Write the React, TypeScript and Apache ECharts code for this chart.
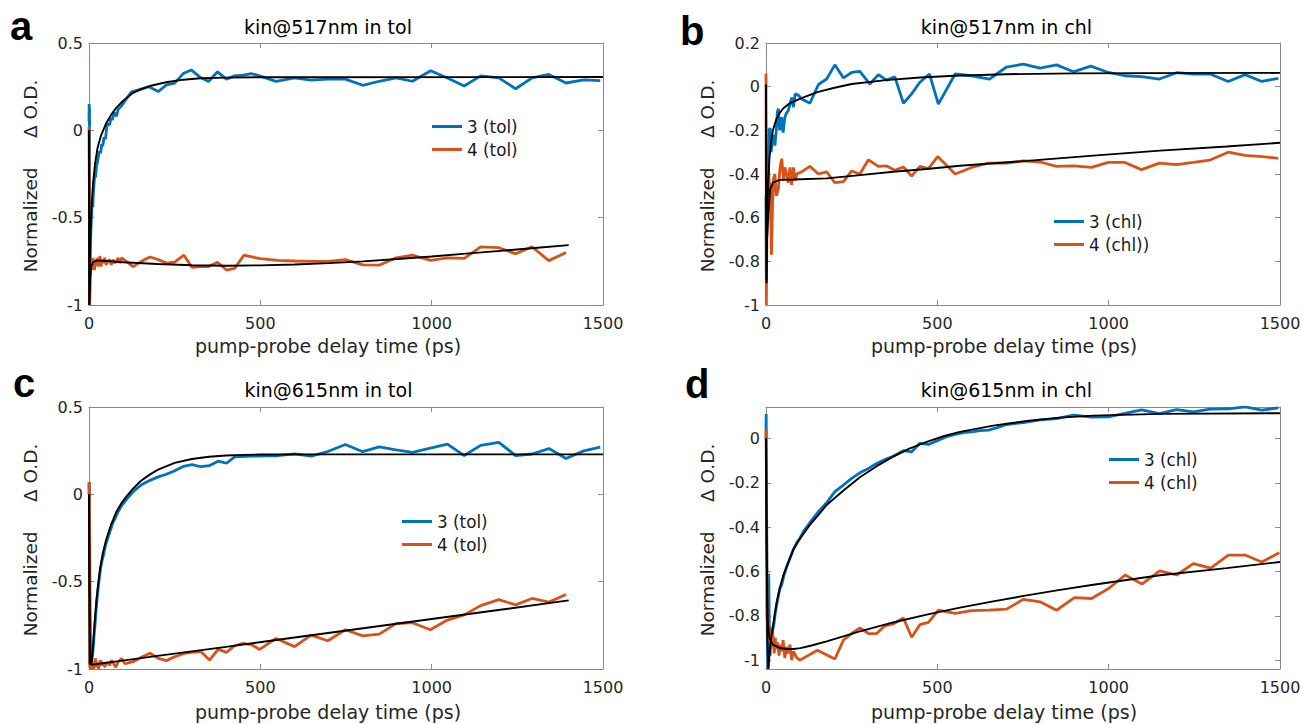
import React, { useEffect, useRef } from "react";
import * as echarts from "echarts";

type Pt = [number, number];

// ---------- tick values & labels ----------
const xTicks = [0, 500, 1000, 1500];
const yTicksAC = [-1, -0.5, 0, 0.5];
const yTicksB = [-1, -0.8, -0.6, -0.4, -0.2, 0, 0.2];
const yTicksD = [-1, -0.8, -0.6, -0.4, -0.2, 0];

const titles = ["kin@517nm in tol", "kin@517nm in chl", "kin@615nm in tol", "kin@615nm in chl"];
const letters = ["a", "b", "c", "d"];
const legendNames = [
  ["3 (tol)", "4 (tol)"],
  ["3 (chl)", "4 (chl))"],
  ["3 (tol)", "4 (tol)"],
  ["3 (chl)", "4 (chl)"],
];
const xLabel = "pump-probe delay time (ps)";
const yLabel = "Normalized\u00a0\u00a0\u00a0\u00a0\u00a0\u0394 O.D.";

// ---------- panel a: kin@517nm in tol ----------
const a3: Pt[] = [[0,0.05],[0.5,0.15],[1,0.03],[1.5,0.13],[2,-0.85],[3,-0.8],[5,-0.6],[7,-0.5],[9,-0.42],[11,-0.44],[13,-0.35],[15,-0.3],[17,-0.25],[19,-0.27],[22,-0.2],[25,-0.18],[28,-0.14],[31,-0.12],[34,-0.13],[37,-0.08],[40,-0.09],[44,-0.04],[48,-0.05],[52,0.02],[56,0.04],[60,0.03],[64,0.07],[68,0.06],[72,0.09],[76,0.1],[80,0.08],[85,0.12],[90,0.13],[95,0.14],[105,0.17],[124,0.22],[150,0.235],[175,0.25],[202,0.222],[226,0.26],[250,0.27],[275,0.325],[299,0.345],[323,0.306],[349,0.28],[375,0.335],[401,0.293],[425,0.312],[450,0.316],[474,0.325],[500,0.31],[546,0.28],[600,0.3],[648,0.287],[697,0.293],[748,0.293],[799,0.258],[847,0.281],[896,0.3],[944,0.281],[997,0.341],[1046,0.3],[1095,0.254],[1143,0.312],[1196,0.3],[1245,0.238],[1293,0.3],[1342,0.32],[1392,0.271],[1444,0.289],[1492,0.285]];
const a4: Pt[] = [[0,0.02],[1,-0.3],[2,-1.0],[4,-0.85],[6,-0.74],[8,-0.8],[10,-0.73],[12,-0.78],[14,-0.75],[16,-0.8],[18,-0.74],[20,-0.77],[23,-0.73],[26,-0.78],[29,-0.75],[32,-0.72],[35,-0.78],[38,-0.74],[42,-0.76],[46,-0.73],[50,-0.77],[55,-0.75],[60,-0.74],[65,-0.77],[70,-0.74],[75,-0.76],[80,-0.75],[85,-0.73],[90,-0.76],[95,-0.73],[129,-0.78],[153,-0.75],[178,-0.725],[202,-0.74],[226,-0.76],[250,-0.755],[277,-0.715],[301,-0.785],[326,-0.78],[349,-0.78],[375,-0.755],[401,-0.8],[425,-0.79],[452,-0.715],[500,-0.735],[550,-0.745],[600,-0.748],[650,-0.75],[700,-0.75],[748,-0.74],[799,-0.77],[847,-0.772],[896,-0.73],[944,-0.715],[997,-0.745],[1046,-0.73],[1095,-0.733],[1143,-0.667],[1196,-0.672],[1245,-0.707],[1293,-0.667],[1342,-0.746],[1392,-0.7]];
const aFit3: Pt[] = [[0,0],[1,-1],[3,-0.7],[5,-0.55],[8,-0.42],[12,-0.3],[17,-0.2],[25,-0.1],[35,-0.03],[50,0.04],[65,0.09],[80,0.13],[100,0.17],[125,0.21],[150,0.235],[180,0.255],[225,0.275],[275,0.29],[325,0.298],[400,0.302],[500,0.304],[1500,0.305]];
const aFit4: Pt[] = [[0,0],[1,-1],[3,-0.85],[6,-0.78],[12,-0.755],[25,-0.745],[50,-0.748],[100,-0.755],[200,-0.765],[300,-0.772],[400,-0.775],[500,-0.773],[600,-0.768],[700,-0.76],[800,-0.75],[900,-0.737],[1000,-0.722],[1100,-0.706],[1200,-0.69],[1300,-0.674],[1400,-0.657]];

// ---------- panel b: kin@517nm in chl ----------
const b3: Pt[] = [[0,-0.5],[1,-0.85],[3,-0.5],[6,-0.34],[9,-0.2],[12,-0.19],[15,-0.3],[18,-0.25],[22,-0.22],[26,-0.27],[30,-0.2],[33,-0.12],[36,-0.1],[40,-0.2],[45,-0.14],[50,-0.21],[55,-0.14],[60,-0.12],[65,-0.11],[70,-0.08],[75,-0.05],[80,-0.094],[85,-0.033],[95,-0.04],[104,-0.056],[128,-0.076],[153,0.01],[177,0.035],[201,0.1],[226,0.04],[250,0.065],[274,0.07],[303,0.012],[328,0.055],[352,0.03],[376,0.045],[401,-0.076],[425,-0.033],[449,0.02],[477,0.058],[503,-0.08],[552,0.058],[600,0.05],[652,0.035],[702,0.09],[751,0.103],[800,0.085],[848,0.1],[897,0.068],[948,0.094],[999,0.065],[1047,0.05],[1096,0.046],[1148,0.035],[1198,0.064],[1247,0.058],[1296,0.058],[1349,0.024],[1398,0.055],[1447,0.024],[1495,0.038]];
const b4: Pt[] = [[0,0.06],[0.5,-0.3],[1,-1.0],[3,-0.6],[7,-0.37],[10,-0.45],[12,-0.44],[16,-0.77],[19,-0.55],[22,-0.42],[26,-0.4],[30,-0.5],[36,-0.47],[41,-0.37],[46,-0.33],[51,-0.43],[55,-0.37],[60,-0.4],[65,-0.44],[70,-0.37],[75,-0.45],[80,-0.37],[85,-0.43],[90,-0.4],[104,-0.39],[128,-0.365],[153,-0.4],[177,-0.39],[201,-0.44],[226,-0.435],[250,-0.386],[274,-0.4],[299,-0.335],[328,-0.365],[352,-0.363],[376,-0.383],[401,-0.368],[425,-0.41],[449,-0.365],[474,-0.375],[501,-0.32],[552,-0.4],[600,-0.37],[649,-0.35],[702,-0.35],[751,-0.34],[800,-0.345],[848,-0.365],[897,-0.363],[950,-0.37],[999,-0.347],[1047,-0.347],[1096,-0.38],[1148,-0.35],[1198,-0.357],[1247,-0.347],[1296,-0.336],[1349,-0.3],[1398,-0.315],[1447,-0.32],[1495,-0.328]];
const bFit3: Pt[] = [[0,0.01],[1.5,-0.89],[3,-0.6],[6,-0.45],[10,-0.33],[15,-0.25],[20,-0.2],[30,-0.15],[40,-0.12],[50,-0.1],[70,-0.075],[100,-0.055],[150,-0.025],[200,-0.005],[250,0.012],[350,0.03],[450,0.042],[550,0.05],[700,0.057],[900,0.061],[1100,0.062],[1500,0.063]];
const bFit4: Pt[] = [[0,0.01],[1.5,-0.9],[3,-0.7],[7,-0.58],[12,-0.47],[20,-0.44],[40,-0.427],[80,-0.425],[177,-0.42],[274,-0.405],[371,-0.39],[469,-0.377],[566,-0.362],[761,-0.34],[955,-0.316],[1150,-0.293],[1344,-0.274],[1500,-0.257]];

// ---------- panel c: kin@615nm in tol ----------
const c3: Pt[] = [[0,0.0],[0.5,0.07],[1.5,0.03],[3,-0.6],[5,-1.0],[7,-0.97],[9,-0.93],[11,-0.9],[13,-0.86],[15,-0.8],[17,-0.76],[20,-0.68],[23,-0.61],[26,-0.55],[29,-0.5],[32,-0.45],[35,-0.41],[38,-0.38],[42,-0.35],[46,-0.31],[50,-0.28],[55,-0.25],[60,-0.22],[65,-0.19],[70,-0.16],[76,-0.14],[85,-0.1],[95,-0.065],[105,-0.04],[115,-0.015],[129,0.015],[153,0.055],[178,0.08],[202,0.1],[226,0.115],[250,0.135],[275,0.16],[301,0.17],[326,0.158],[352,0.165],[377,0.19],[401,0.178],[425,0.215],[474,0.219],[522,0.22],[551,0.221],[600,0.232],[648,0.219],[697,0.245],[748,0.285],[799,0.244],[847,0.272],[896,0.255],[944,0.24],[993,0.263],[1046,0.288],[1095,0.222],[1143,0.28],[1196,0.298],[1245,0.222],[1293,0.231],[1342,0.262],[1392,0.205],[1444,0.249],[1492,0.27]];
const c4: Pt[] = [[0,0.03],[0.5,0.07],[1,0.0],[2,-0.98],[4,-1.0],[6,-0.95],[8,-0.99],[10,-0.96],[13,-1.0],[16,-0.97],[19,-0.94],[22,-0.99],[25,-0.96],[28,-1.0],[31,-0.97],[34,-0.95],[38,-0.98],[42,-0.96],[46,-0.99],[50,-0.97],[55,-0.96],[60,-0.98],[66,-0.95],[72,-0.97],[78,-0.99],[85,-0.96],[95,-0.94],[105,-0.97],[129,-0.958],[153,-0.933],[178,-0.91],[202,-0.939],[226,-0.952],[250,-0.93],[280,-0.91],[301,-0.905],[326,-0.9],[352,-0.949],[377,-0.886],[401,-0.905],[425,-0.867],[449,-0.853],[474,-0.86],[498,-0.888],[546,-0.825],[600,-0.872],[648,-0.806],[697,-0.838],[748,-0.775],[799,-0.81],[847,-0.8],[896,-0.74],[944,-0.735],[996,-0.775],[1046,-0.72],[1095,-0.69],[1143,-0.637],[1196,-0.603],[1245,-0.633],[1293,-0.596],[1342,-0.617],[1392,-0.574]];
const cFit3: Pt[] = [[0,0.0],[1.5,-0.5],[3,-0.9],[6,-0.97],[9,-0.95],[12,-0.86],[17,-0.72],[22,-0.6],[27,-0.51],[32,-0.43],[40,-0.34],[50,-0.26],[65,-0.17],[80,-0.1],[95,-0.05],[110,-0.01],[130,0.035],[150,0.075],[175,0.11],[200,0.14],[250,0.18],[300,0.202],[350,0.215],[400,0.222],[450,0.226],[500,0.228],[700,0.229],[1500,0.229]];
const cFit4: Pt[] = [[0,0],[2,-0.97],[10,-0.975],[30,-0.97],[60,-0.962],[200,-0.925],[400,-0.873],[600,-0.82],[800,-0.767],[1000,-0.714],[1200,-0.661],[1400,-0.607]];

// ---------- panel d: kin@615nm in chl ----------
const d3: Pt[] = [[0,0.0],[0.5,0.11],[2,-0.4],[4,-0.95],[6,-1.04],[8,-0.61],[10,-0.92],[12,-0.98],[14,-0.88],[17,-0.92],[20,-0.86],[23,-0.84],[26,-0.8],[30,-0.76],[35,-0.72],[40,-0.68],[46,-0.66],[52,-0.62],[60,-0.58],[70,-0.54],[80,-0.5],[90,-0.47],[99,-0.45],[109,-0.42],[128,-0.38],[153,-0.33],[177,-0.29],[201,-0.24],[226,-0.21],[250,-0.18],[274,-0.155],[299,-0.135],[323,-0.113],[347,-0.095],[371,-0.08],[401,-0.055],[425,-0.06],[449,-0.022],[474,-0.027],[503,-0.008],[527,0.008],[552,0.018],[576,0.026],[600,0.03],[625,0.035],[649,0.038],[673,0.048],[702,0.063],[751,0.072],[800,0.084],[848,0.09],[897,0.105],[950,0.096],[999,0.098],[1047,0.113],[1096,0.129],[1148,0.112],[1198,0.13],[1247,0.12],[1296,0.132],[1349,0.134],[1398,0.143],[1447,0.128],[1495,0.138]];
const d4: Pt[] = [[0,-0.01],[0.5,0.04],[1.5,-0.3],[3,-0.8],[5,-0.86],[8,-0.83],[10,-0.92],[12,-0.88],[14,-0.95],[16,-0.85],[18,-0.93],[21,-0.89],[24,-0.97],[27,-0.9],[30,-0.95],[34,-0.92],[38,-0.98],[42,-0.93],[46,-0.96],[50,-0.91],[55,-0.99],[60,-0.94],[65,-0.97],[70,-0.93],[75,-1.0],[80,-0.96],[90,-0.99],[99,-1.0],[150,-0.955],[201,-0.995],[226,-0.91],[250,-0.88],[274,-0.855],[299,-0.88],[323,-0.88],[347,-0.845],[371,-0.837],[401,-0.81],[425,-0.897],[449,-0.84],[474,-0.83],[503,-0.774],[552,-0.789],[600,-0.777],[649,-0.774],[702,-0.77],[751,-0.726],[800,-0.737],[848,-0.775],[900,-0.718],[950,-0.722],[1000,-0.677],[1048,-0.616],[1097,-0.657],[1149,-0.597],[1198,-0.616],[1247,-0.565],[1298,-0.585],[1349,-0.526],[1398,-0.526],[1447,-0.557],[1498,-0.516]];
const dFit3: Pt[] = [[0,0.0],[2,-0.5],[4,-0.9],[7,-1.04],[10,-0.98],[15,-0.9],[21,-0.84],[31,-0.74],[41,-0.67],[50,-0.62],[60,-0.58],[80,-0.5],[100,-0.45],[128,-0.39],[150,-0.35],[177,-0.3],[226,-0.235],[274,-0.175],[323,-0.125],[371,-0.082],[420,-0.045],[469,-0.015],[518,0.01],[566,0.03],[663,0.058],[761,0.079],[858,0.094],[955,0.103],[1150,0.111],[1500,0.114]];
const dFit4: Pt[] = [[0,0],[2,-0.5],[5,-0.82],[10,-0.9],[20,-0.93],[40,-0.945],[60,-0.95],[80,-0.95],[100,-0.946],[130,-0.935],[177,-0.915],[274,-0.87],[371,-0.83],[469,-0.795],[566,-0.763],[663,-0.735],[761,-0.708],[858,-0.683],[955,-0.66],[1150,-0.617],[1344,-0.585],[1500,-0.557]];

const panelData = [
  [a3, a4, aFit3, aFit4],
  [b3, b4, bFit3, bFit4],
  [c3, c4, cFit3, cFit4],
  [d3, d4, dFit3, dFit4],
];

// ---------- layout (positions / styles) ----------
const FONT = "DejaVu Sans";
const BLUE = "#0072BD";
const ORANGE = "#D95319";
const AXIS = "#8a8a8a";
const TXT = "#262626";

const layout = [
  { left: 89, top: 43, yMin: -1, yMax: 0.5, yTicks: yTicksAC, interval: 0.5, titleX: 328, titleY: 27, xlabX: 328, xlabY: 346, ylabX: 30.5, ylabY: 176, letterX: 10, letterY: 26, legLeft: 432, legTop: 118 },
  { left: 766, top: 43, yMin: -1, yMax: 0.2, yTicks: yTicksB, interval: 0.2, titleX: 1006.5, titleY: 27, xlabX: 1004, xlabY: 346, ylabX: 707, ylabY: 176, letterX: 680, letterY: 31, legLeft: 1054, legTop: 213 },
  { left: 89, top: 407, yMin: -1, yMax: 0.5, yTicks: yTicksAC, interval: 0.5, titleX: 328.5, titleY: 390, xlabX: 328, xlabY: 712, ylabX: 30.5, ylabY: 540, letterX: 13, letterY: 383, legLeft: 402, legTop: 513 },
  { left: 766, top: 407, yMin: -1.04, yMax: 0.142, yTicks: yTicksD, interval: 0, titleX: 1006.5, titleY: 390, xlabX: 1004, xlabY: 712, ylabX: 707, ylabY: 540, letterX: 685, letterY: 384, legLeft: 1109, legTop: 451 },
];
const PW = 514;
const PH = 262;

const plainNum = (v: number) => String(Math.round(v * 1000) / 1000);

function buildOption() {
  const grid: any[] = [];
  const xAxis: any[] = [];
  const yAxis: any[] = [];
  const series: any[] = [];
  const legend: any[] = [];
  const graphic: any[] = [];

  layout.forEach((L, i) => {
    grid.push({ left: L.left, top: L.top, width: PW, height: PH, containLabel: false, outerBoundsMode: "none" });
    const lineStyle = { color: AXIS, width: 1 };
    const tickBase = { show: true, inside: true, length: 5, lineStyle };
    const xCommon = { type: "value", gridIndex: i, min: xTicks[0], max: xTicks[xTicks.length - 1], interval: xTicks[1] - xTicks[0], splitLine: { show: false } };
    xAxis.push({
      ...xCommon, position: "bottom",
      axisLine: { show: true, onZero: false, lineStyle }, axisTick: tickBase,
      axisLabel: { show: true, margin: 10, fontSize: 16, fontFamily: FONT, color: TXT, formatter: plainNum },
    });
    xAxis.push({
      ...xCommon, position: "top",
      axisLine: { show: true, onZero: false, lineStyle }, axisTick: tickBase,
      axisLabel: { show: false },
    });
    const yCommon: any = { type: "value", gridIndex: i, min: L.yMin, max: L.yMax, splitLine: { show: false } };
    if (L.interval) yCommon.interval = L.interval;
    const custom = L.interval ? {} : { customValues: L.yTicks };
    yAxis.push({
      ...yCommon, position: "left",
      axisLine: { show: true, onZero: false, lineStyle }, axisTick: { ...tickBase, ...custom },
      axisLabel: { show: true, margin: 6, fontSize: 16, fontFamily: FONT, color: TXT, formatter: plainNum, ...custom },
    });
    yAxis.push({
      ...yCommon, position: "right",
      axisLine: { show: true, onZero: false, lineStyle }, axisTick: { ...tickBase, ...custom },
      axisLabel: { show: false },
    });

    const [s3, s4, f3, f4] = panelData[i];
    const names = legendNames[i];
    const base = { type: "line", xAxisIndex: 2 * i, yAxisIndex: 2 * i, showSymbol: false, symbol: "none", silent: true, animation: false };
    series.push({ ...base, name: names[0], data: s3, lineStyle: { color: BLUE, width: 2.8 }, itemStyle: { color: BLUE }, z: 2 });
    series.push({ ...base, name: names[1], data: s4, lineStyle: { color: ORANGE, width: 2.8 }, itemStyle: { color: ORANGE }, z: 2 });
    series.push({ ...base, name: "fit3-" + letters[i], data: f3, lineStyle: { color: "#000", width: 1.9 }, itemStyle: { color: "#000" }, z: 3 });
    series.push({ ...base, name: "fit4-" + letters[i], data: f4, lineStyle: { color: "#000", width: 1.9 }, itemStyle: { color: "#000" }, z: 3 });

    legend.push({
      data: names, left: L.legLeft, top: L.legTop, orient: "vertical", padding: 0,
      itemWidth: 30, itemHeight: 3, icon: "rect", itemGap: 6, selectedMode: false,
      textStyle: { fontSize: 16.8, fontFamily: FONT, color: "#1a1a1a", lineHeight: 16 },
    });

    graphic.push({
      type: "text", x: L.titleX, y: L.titleY, silent: true,
      style: { text: titles[i], fontSize: 19, fontFamily: FONT, fill: "#000", align: "center", verticalAlign: "middle", textAlign: "center", textVerticalAlign: "middle" },
    });
    graphic.push({
      type: "text", x: L.xlabX, y: L.xlabY, silent: true,
      style: { text: xLabel, fontSize: 19, fontFamily: FONT, fill: TXT, align: "center", verticalAlign: "middle", textAlign: "center", textVerticalAlign: "middle" },
    });
    graphic.push({
      type: "text", x: L.ylabX, y: L.ylabY, rotation: Math.PI / 2, silent: true,
      style: { text: yLabel, fontSize: 18.5, fontFamily: FONT, fill: TXT, align: "center", verticalAlign: "middle", textAlign: "center", textVerticalAlign: "middle" },
    });
    graphic.push({
      type: "text", x: L.letterX, y: L.letterY, silent: true,
      style: { text: letters[i], fontSize: 40, fontWeight: "bold", fontFamily: "Liberation Sans", fill: "#000", align: "left", verticalAlign: "middle", textAlign: "left", textVerticalAlign: "middle" },
    });
  });

  return { animation: false, backgroundColor: "#ffffff", grid, xAxis, yAxis, series, legend, graphic };
}

export default function App() {
  const ref = useRef<HTMLDivElement>(null);
  useEffect(() => {
    if (!ref.current) return;
    const chart = echarts.init(ref.current, undefined, { renderer: "svg" });
    chart.setOption(buildOption() as any);
    return () => chart.dispose();
  }, []);
  return <div ref={ref} style={{ position: "fixed", left: 0, top: 0, width: 1303, height: 724, background: "#fff" }} />;
}
